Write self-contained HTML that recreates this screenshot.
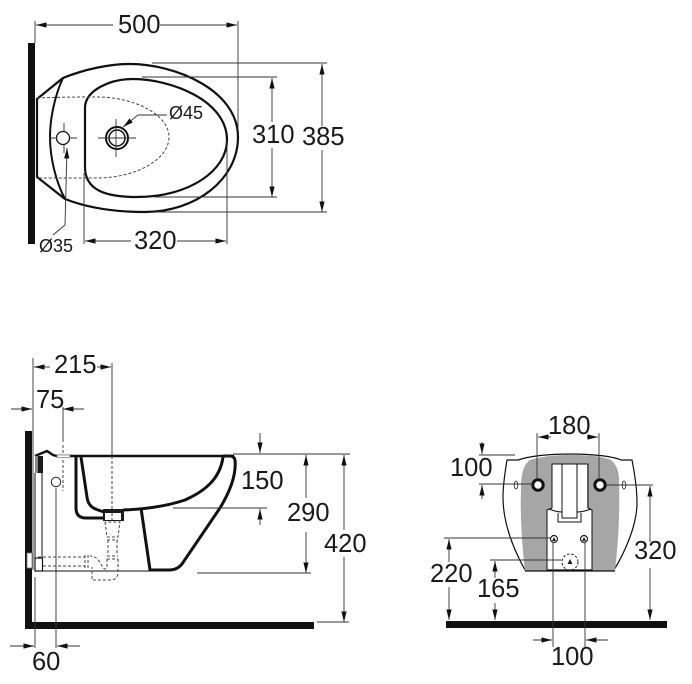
<!DOCTYPE html>
<html>
<head>
<meta charset="utf-8">
<style>
html,body{margin:0;padding:0;background:#fff;width:692px;height:684px;overflow:hidden}
svg{display:block}
text{font-family:"Liberation Sans",sans-serif;font-size:25.5px;fill:#1a1a1a}
.t{font-size:18px}
.d{stroke:#333;stroke-width:.9;fill:none}
.k{stroke:#111;fill:none}
.da{stroke:#444;stroke-width:1;fill:none;stroke-dasharray:3 2}
</style>
</head>
<body>
<svg width="692" height="684" viewBox="0 0 692 684" xmlns="http://www.w3.org/2000/svg">
<defs>
<marker id="a" markerWidth="11" markerHeight="6" refX="10.500" refY="3" orient="auto-start-reverse" markerUnits="userSpaceOnUse"><path d="M0 .4L10.500 3L0 5.600Z" fill="#111"/></marker>
</defs>

<!-- TOP VIEW -->
<rect x="28" y="43" width="7" height="201" fill="#111"/>
<path class="k" stroke-width="2.200" d="M37 99L63 78C85 69 110 64 130 64C175 64 238 90 238 137C238 180 195 212 145 212C115 212 88 208 65 199L37 177Z"/>
<path class="k" stroke-width="2" d="M63 78C55 95 50 118 50 137C50 158 56 182 65 199"/>
<path class="k" stroke-width="2.200" d="M85 167V107C86 90 110 79 133 79C170 79 227 100 227 140C227 170 190 197 137 197C105 197 85 190 85 167Z"/>
<path class="da" d="M37 98C60 97 80 97 97 97C135 97 169 115 169 137C169 160 135 178 97 178H37"/>
<circle cx="63" cy="138" r="6.500" fill="#fff" stroke="#111" stroke-width="1.300"/>
<path class="d" d="M49 138H57M69 138H77M64 123V131M64 145V153"/>
<circle cx="117" cy="138" r="11" fill="#fff" stroke="#111" stroke-width="2"/>
<circle cx="117" cy="138" r="8" fill="#fff" stroke="#111" stroke-width="1.500"/>
<path class="d" d="M98 138H136M116 119V157"/>
<path class="d" d="M35 21V43M238 21V128"/>
<path class="d" marker-start="url(#a)" d="M36 25H113"/>
<path class="d" marker-end="url(#a)" d="M160 25H237"/>
<text x="118" y="33">500</text>
<path class="d" d="M152 63H327M142 77H277M155 197H277M156 212H327"/>
<path class="d" marker-start="url(#a)" d="M322 64V126"/>
<path class="d" marker-end="url(#a)" d="M322 150V212"/>
<text x="302" y="145">385</text>
<path class="d" marker-start="url(#a)" d="M272 78V122"/>
<path class="d" marker-end="url(#a)" d="M272 148V197"/>
<text x="252" y="143">310</text>
<path class="d" d="M84 173V244M227 140V244"/>
<path class="d" marker-start="url(#a)" d="M85 241H131"/>
<path class="d" marker-end="url(#a)" d="M177 241H226"/>
<text x="134" y="249">320</text>
<path class="d" marker-end="url(#a)" d="M167 115H138L123 127"/>
<text class="t" x="169" y="119">Ø45</text>
<path class="d" marker-end="url(#a)" d="M65 225L67 148"/>
<path class="d" d="M65 225L53 235"/>
<text class="t" x="39" y="252">Ø35</text>

<!-- SIDE VIEW -->
<path d="M25 431H32V622H314V629H25Z" fill="#111"/>
<path class="d" d="M33 358V570M112 363V455"/>
<path class="d" marker-start="url(#a)" d="M34 367H50"/>
<path class="d" marker-end="url(#a)" d="M97 367H111"/>
<text x="54" y="373">215</text>
<path class="d" marker-end="url(#a)" d="M11 409H32"/>
<path class="d" marker-start="url(#a)" d="M63 409H84"/>
<path class="d" d="M63 407V442"/>
<text x="36" y="408">75</text>
<path class="da" d="M63 445V491"/>
<path class="d" d="M35 577V648M56 488V648"/>
<path class="d" marker-end="url(#a)" d="M10 646H34"/>
<path class="d" marker-start="url(#a)" d="M57 646H80"/>
<text x="32" y="670">60</text>

<path class="k" stroke-width="2.400" d="M35 456L47 451L53 455L57 456H234"/>
<rect x="35" y="456" width="3" height="17" fill="#888"/>
<rect x="38" y="456" width="5" height="17" fill="#1a1a1a"/>
<rect x="57" y="455" width="13" height="2.500" fill="#fff" stroke="#666" stroke-width=".6"/>
<path class="k" stroke-width="1" d="M42 473V558M35 473V558M35 571H150"/>
<circle cx="56" cy="482" r="4.700" fill="#fff" stroke="#222" stroke-width="1"/>
<!-- bowl walls -->
<path class="k" stroke-width="3" d="M76 457V508Q76 518 86 518H104"/>
<path class="k" stroke-width="3" d="M81 457L87 497Q88 507 98 510L104 512"/>
<path class="k" stroke-width="3" d="M123 510C150 509 170 505 185 500C203 492 220 480 223 457"/>
<path class="k" stroke-width="3" d="M141 508L150 570H170Q177 570 182 564L220 508Q237 480 235 460Q234 456 230 456H223"/>
<!-- drain -->
<path d="M103 509H124V521H103Z" fill="#1a1a1a"/>
<rect x="105" y="513" width="16" height="7" fill="#fff"/>
<path class="da" d="M112 456V510M112 513V520"/>
<!-- trap -->
<path class="da" d="M105 522L107 537H118L120 522H105M107 540H118M108 540V555M117 540V555M107 556H118M107 559H118M118 559V572Q118 580 110 580H92V567M107 559V568Q105 570 103 568C100 562 97 556 90 556M38 557H85M38 566H85M85 555V568M88 555V568"/>
<rect x="27" y="553" width="5" height="15" fill="#fff" stroke="#777" stroke-width=".8"/>
<rect x="35" y="558" width="7.500" height="13" fill="#fff" stroke="#111" stroke-width="1.200"/>

<path class="d" d="M173 508H267M197 573H311M233 454H350M317 622H349"/>
<path class="d" marker-end="url(#a)" d="M260 433V453"/>
<path class="d" marker-start="url(#a)" d="M260 509V525"/>
<text x="241" y="489">150</text>
<path class="d" marker-start="url(#a)" d="M306 455V498"/>
<path class="d" marker-end="url(#a)" d="M306 532V573"/>
<text x="287" y="521">290</text>
<path class="d" marker-start="url(#a)" d="M344 455V530"/>
<path class="d" marker-end="url(#a)" d="M344 557V622"/>
<text x="324" y="552">420</text>

<!-- FRONT VIEW -->
<rect x="446" y="621" width="221" height="7" fill="#111"/>
<path class="k" stroke-width="1.200" d="M507 460L518 460C530 456 550 454 571 454C590 454 612 456 621 460L632 460C635 475 637 490 637 503C637 525 625 552 614 570H525C515 552 503 525 503 497C503 485 505 472 507 460Z"/>
<path d="M530 460C545 456 555 455 571 455C590 455 600 456 611 460C617 465 619 472 619 480C620 515 618 545 615 571H592V510L587 508V464H552V508L547 510V571H525C522 545 520 515 521 490C521 475 523 465 530 460Z" fill="#a6a6a6"/>
<path class="k" stroke-width="1.200" d="M525 571H615"/>
<path class="k" stroke-width="1" d="M552 508V464H588V508M547 571V510L552 508M592 571V510L588 508"/>
<path class="k" stroke-width="1" d="M562 464V518H577V464M558 513V522H581V513M549 509C554 511 558 512 562 512M591 509C586 511 582 512 577 512"/>
<circle cx="538" cy="485" r="5.200" fill="#fff" stroke="#111" stroke-width="3"/>
<circle cx="600" cy="485" r="5.200" fill="#fff" stroke="#111" stroke-width="3"/>
<ellipse cx="516" cy="485" rx="1.800" ry="4" fill="#fff" stroke="#222" stroke-width=".8"/>
<ellipse cx="624" cy="485" rx="1.800" ry="4" fill="#fff" stroke="#222" stroke-width=".8"/>
<circle cx="554" cy="539" r="3.500" fill="#fff" stroke="#222" stroke-width="1.200"/>
<circle cx="584" cy="539" r="3.500" fill="#fff" stroke="#222" stroke-width="1.200"/>
<path d="M554 537L552 541H556ZM584 537L582 541H586Z" fill="#222"/>
<circle cx="570" cy="562" r="8" fill="none" stroke="#222" stroke-width="1" stroke-dasharray="2.500 1.800"/>
<path d="M570 559L567.500 564H572.500Z" fill="#222"/>

<path class="d" d="M537 433V478M599 433V478"/>
<path class="d" marker-start="url(#a)" d="M538 437H551"/>
<path class="d" marker-end="url(#a)" d="M587 437H598"/>
<text x="548" y="434">180</text>
<path class="d" d="M479 455H515M479 484H533M607 485H653"/>
<path class="d" marker-end="url(#a)" d="M482 442V454"/>
<path class="d" marker-start="url(#a)" d="M482 485V499"/>
<text x="450" y="476">100</text>
<path class="d" marker-start="url(#a)" d="M650 486V542"/>
<path class="d" marker-end="url(#a)" d="M650 568V620"/>
<text x="634" y="559">320</text>
<path class="d" d="M444 538H550M490 560H561"/>
<path class="d" marker-start="url(#a)" d="M449 539V562"/>
<path class="d" marker-end="url(#a)" d="M449 587V620"/>
<text x="430" y="582">220</text>
<path class="d" marker-start="url(#a)" d="M495 561V578"/>
<path class="d" marker-end="url(#a)" d="M495 603V620"/>
<text x="477" y="597">165</text>
<path class="d" d="M553 543V647M585 543V647"/>
<path class="d" marker-end="url(#a)" d="M533 640H552"/>
<path class="d" marker-start="url(#a)" d="M586 640H608"/>
<text x="551" y="665">100</text>
</svg>
</body>
</html>
